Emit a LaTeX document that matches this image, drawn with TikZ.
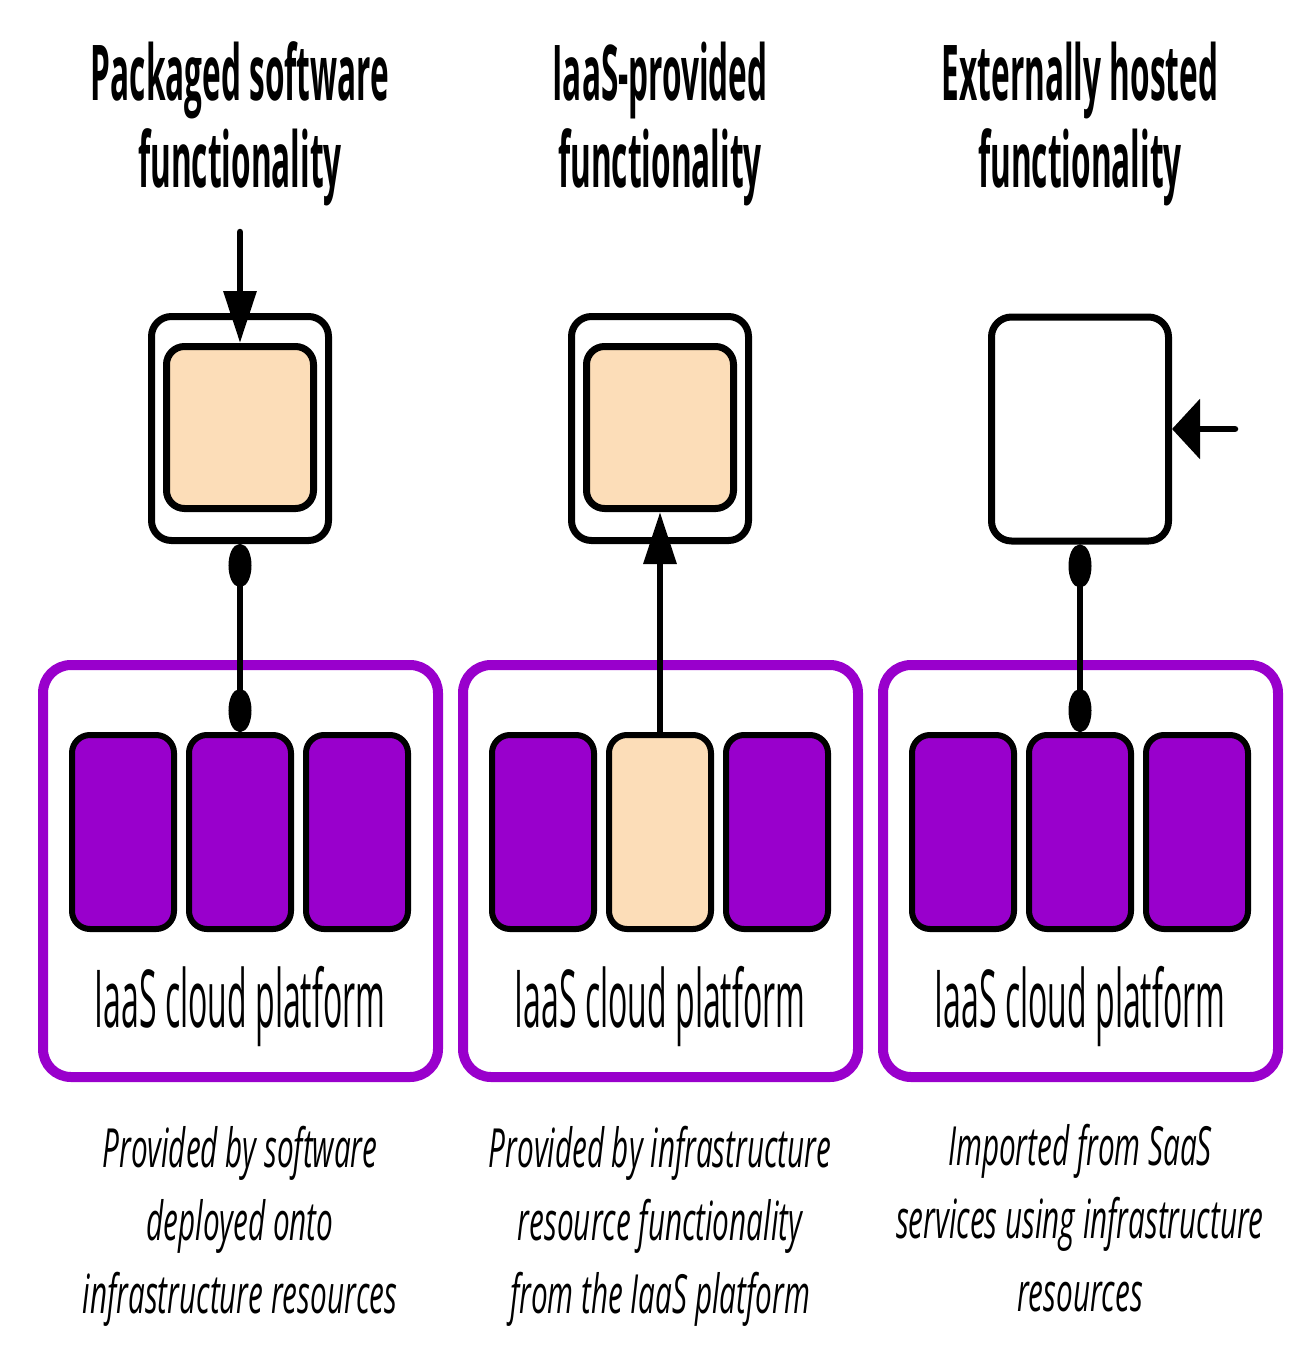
\documentclass[tikz,border=0pt]{standalone}
\usepackage{fontspec}
\setmainfont{Open Sans}
\newfontfamily\headfont[FakeStretch=0.41]{Open Sans}
\newfontfamily\platfont[FakeStretch=0.40]{Open Sans}
\newfontfamily\notefont[FakeStretch=0.55]{Open Sans}
\usepackage{tikz}
\usetikzlibrary{arrows.meta}
\usetikzlibrary{positioning}

\definecolor{iaaspurple}{RGB}{153,0,204}
\definecolor{peach}{RGB}{252,221,184}

\begin{document}
\begin{tikzpicture}[x=1pt,y=-1pt,
    headlabel/.style={anchor=base,align=center,inner sep=0pt,font=\headfont\bfseries\fontsize{77}{87}\selectfont},
    platlabel/.style={anchor=base,inner sep=0pt,font=\platfont\fontsize{80}{90}\selectfont},
    notelabel/.style={anchor=base,align=center,inner sep=0pt,font=\notefont\itshape\fontsize{54}{73}\selectfont},
    outerbox/.style={draw,fill=white,line width=7pt,rounded corners=20pt,minimum width=177pt,minimum height=224pt,inner sep=0pt},
    innerbox/.style={draw,fill=peach,line width=7pt,rounded corners=18pt,minimum width=147pt,minimum height=162pt,inner sep=0pt},
    platform/.style={draw=iaaspurple,line width=10pt,rounded corners=28pt,minimum width=395pt,minimum height=412pt,inner sep=0pt},
    resbox/.style={draw,fill=iaaspurple,line width=6pt,rounded corners=18pt,minimum width=102pt,minimum height=194pt,inner sep=0pt},
    lollipop/.style={line width=6.5pt,{Ellipse[length=43pt,width=23pt]}-{Ellipse[length=43pt,width=23pt]}},
    feed/.style={line width=6.5pt,line cap=round,-{Triangle[length=52pt,width=32pt]}},
    sidefeed/.style={line width=6.5pt,line cap=round,-{Triangle[length=28pt,width=59pt]}}]
  \useasboundingbox (0,0) rectangle (1316,1363);

  % headings
  \node[headlabel] (pkglabel) at (240,187) {Packaged software\\functionality};
  \node[headlabel] (iaaslabel) at (660,187) {IaaS-provided\\functionality};
  \node[headlabel] (extlabel) at (1080,187) {Externally hosted\\functionality};

  % platforms
  \node[platform] (pkgplat) at (240.5,871) {};
  \node[platform] (iaasplat) at (660.5,871) {};
  \node[platform] (extplat) at (1080.5,871) {};

  \node[resbox] (pkgres2) at (240,832) {};
  \node[resbox,left=9pt of pkgres2] (pkgres1) {};
  \node[resbox,right=9pt of pkgres2] (pkgres3) {};
  \node[resbox,fill=peach] (iaasres2) at (660,832) {};
  \node[resbox,left=9pt of iaasres2] (iaasres1) {};
  \node[resbox,right=9pt of iaasres2] (iaasres3) {};
  \node[resbox] (extres2) at (1080,832) {};
  \node[resbox,left=9pt of extres2] (extres1) {};
  \node[resbox,right=9pt of extres2] (extres3) {};

  \node[platlabel] (pkgname) at (240,1027) {IaaS cloud platform};
  \node[platlabel] (iaasname) at (660,1027) {IaaS cloud platform};
  \node[platlabel] (extname) at (1080,1027) {IaaS cloud platform};

  % functionality boxes
  \node[outerbox] (pkgouter) at (240,428.5) {};
  \node[innerbox] (pkginner) at (240,427.5) {};
  \node[outerbox] (iaasouter) at (660,428.5) {};
  \node[innerbox] (iaasinner) at (660,427.5) {};
  \node[outerbox] (exthost) at (1080,429) {};

  % connectors
  \coordinate (pkgin) at (240,232);
  \coordinate (extin) at (1235,429);
  \draw[feed] (pkgin) -- (pkginner.north);
  \draw[lollipop] (pkgouter.south) -- (pkgres2.north);
  \draw[feed] (iaasres2.north) -- (iaasinner.south);
  \draw[lollipop] (exthost.south) -- (extres2.north);
  \draw[sidefeed] (extin) -- (exthost.east);

  % notes
  \node[notelabel] (pkgnote) at (240,1313) {Provided by software\\deployed onto\\infrastructure resources};
  \node[notelabel] (iaasnote) at (660,1313) {Provided by infrastructure\\resource functionality\\from the IaaS platform};
  \node[notelabel] (extnote) at (1080,1311) {Imported from SaaS\\services using infrastructure\\resources};
\end{tikzpicture}
\end{document}
